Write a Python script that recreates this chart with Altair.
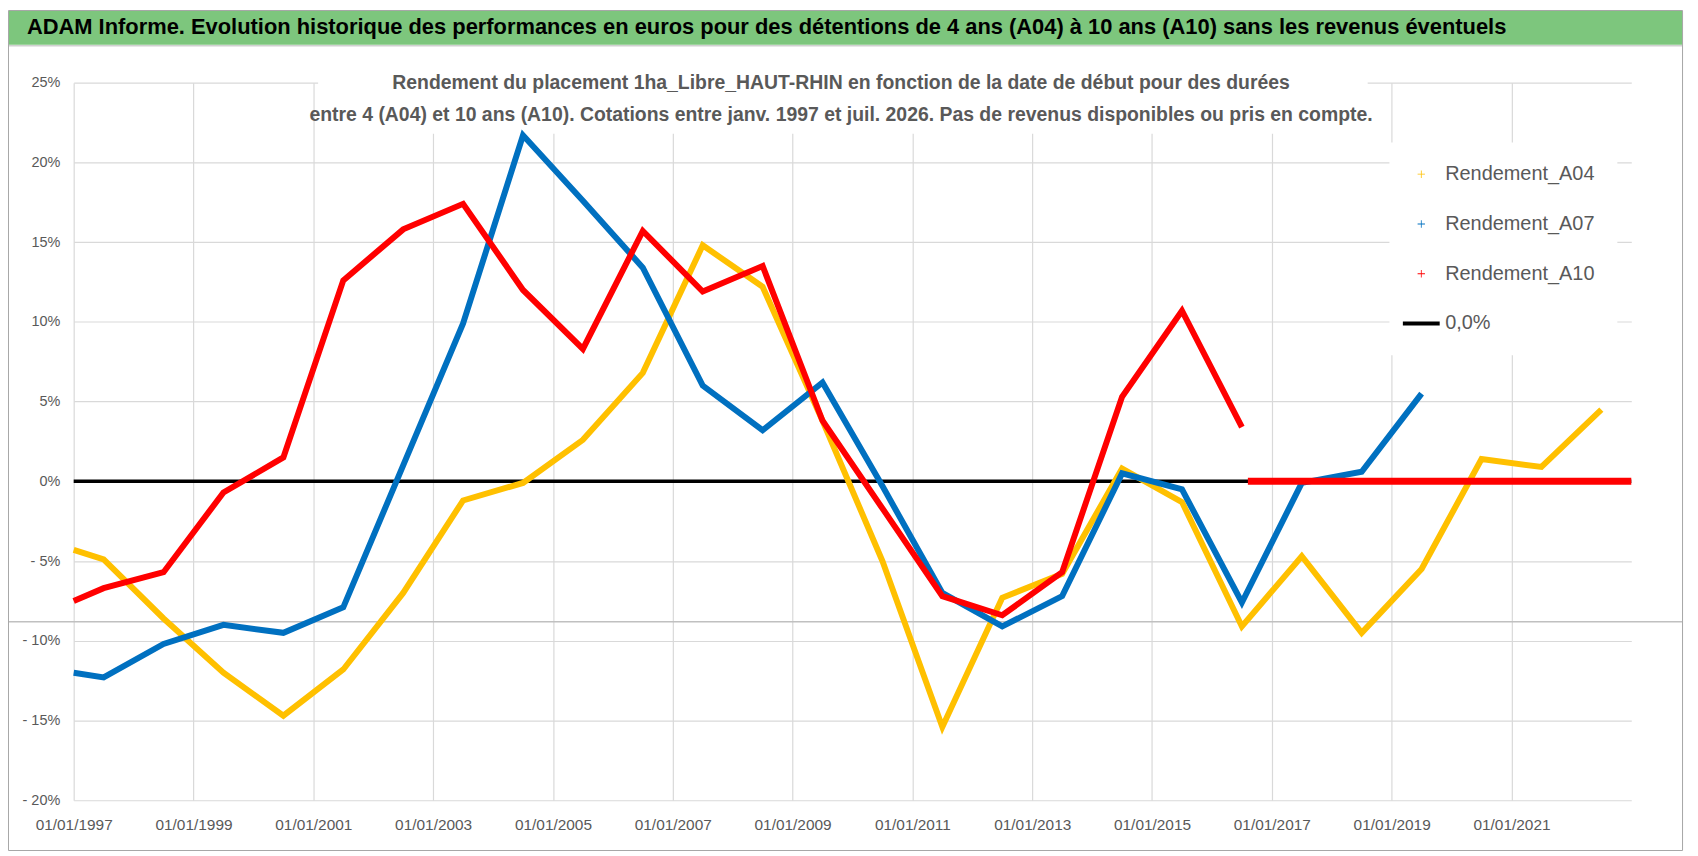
import altair as alt
import pandas as pd

# dates de début (années décimales) et rendements en %
years_a04 = [1997.0, 1997.5, 1998.5, 1999.5, 2000.5, 2001.5, 2002.5, 2003.5, 2004.5,
             2005.5, 2006.5, 2007.5, 2008.5, 2009.5, 2010.5, 2011.5, 2012.5, 2013.5,
             2014.5, 2015.5, 2016.5, 2017.5, 2018.5, 2019.5, 2020.5, 2021.5, 2022.5]
rend_a04 = [-4.3, -4.9, -8.6, -12.0, -14.7, -11.8, -7.0, -1.2, -0.1,
            2.6, 6.8, 14.8, 12.2, 3.8, -5.0, -15.4, -7.3, -5.8,
            0.8, -1.3, -9.1, -4.7, -9.5, -5.5, 1.4, 0.9, 4.5]

years_a07 = [1997.0, 1997.5, 1998.5, 1999.5, 2000.5, 2001.5, 2002.5, 2003.5, 2004.5,
             2005.5, 2006.5, 2007.5, 2008.5, 2009.5, 2010.5, 2011.5, 2012.5, 2013.5,
             2014.5, 2015.5, 2016.5, 2017.5, 2018.5, 2019.5]
rend_a07 = [-12.0, -12.3, -10.2, -9.0, -9.5, -7.9, 1.0, 9.9, 21.7,
            17.6, 13.4, 6.0, 3.2, 6.2, -0.3, -7.0, -9.1, -7.2,
            0.5, -0.5, -7.6, -0.1, 0.6, 5.5]

years_a10 = [1997.0, 1997.5, 1998.5, 1999.5, 2000.5, 2001.5, 2002.5, 2003.5, 2004.5,
             2005.5, 2006.5, 2007.5, 2008.5, 2009.5, 2010.5, 2011.5, 2012.5, 2013.5,
             2014.5, 2015.5, 2016.5]
rend_a10 = [-7.5, -6.7, -5.7, -0.7, 1.5, 12.6, 15.8, 17.4, 12.0,
            8.3, 15.7, 11.9, 13.5, 3.8, -1.7, -7.2, -8.4, -5.7,
            5.3, 10.7, 3.4]

# A10 sans cotation : valeurs nulles
years_a10_nul = [2016.6, 2023.0]
rend_a10_nul = [0.0, 0.0]

years_zero = [1997.0, 2023.0]
rend_zero = [0.0, 0.0]

series = ["Rendement_A04", "Rendement_A07", "Rendement_A10", "0,0%"]
colors = ["#ffc000", "#0070c0", "#ff0000", "#000000"]
year_ticks = [1997, 1999, 2001, 2003, 2005, 2007, 2009, 2011, 2013, 2015, 2017, 2019, 2021]
pct_ticks = [-20, -15, -10, -5, 0, 5, 10, 15, 20, 25]

title_text = ("ADAM Informe. Evolution historique des performances en euros pour des "
              "détentions de 4 ans (A04) à 10 ans (A10) sans les revenus éventuels")
subtitle_1 = ("Rendement du placement 1ha_Libre_HAUT-RHIN en fonction de la date de "
              "début pour des durées")
subtitle_2 = ("entre 4 (A04) et 10 ans (A10).  Cotations entre janv. 1997 et juil. 2026. "
              "Pas de revenus disponibles ou pris en compte.")

FONT = "Liberation Sans"
NARROW = "Liberation Sans Narrow, Liberation Sans"
GREY_TXT = "#595959"

rows = []
for name, xs, ys in [
    ("0,0%", years_zero, rend_zero),
    ("Rendement_A04", years_a04, rend_a04),
    ("Rendement_A07", years_a07, rend_a07),
    ("Rendement_A10", years_a10, rend_a10),
    ("A10_nul", years_a10_nul, rend_a10_nul),
]:
    for a, r in zip(xs, ys):
        rows.append({"serie": name, "annee": a, "rendement": r})
df = pd.DataFrame(rows)

x_enc = alt.X(
    "annee:Q",
    scale=alt.Scale(domain=[1997, 2023], nice=False, zero=False),
    axis=alt.Axis(
        values=year_ticks, labelExpr="'01/01/' + datum.value", title=None,
        ticks=False, domain=False, grid=True, gridColor="#d9d9d9", gridWidth=1.2,
        labelPadding=17, labelFont=FONT, labelFontSize=15.5, labelColor=GREY_TXT,
        labelFlush=False, labelOverlap=False,
    ),
)
y_enc = alt.Y(
    "rendement:Q",
    scale=alt.Scale(domain=[-20, 25], nice=False, zero=False),
    axis=alt.Axis(
        values=pct_ticks,
        labelExpr="datum.value < 0 ? '- ' + abs(datum.value) + '%' : datum.value + '%'",
        title=None, ticks=False, domain=False, grid=True, gridColor="#d9d9d9",
        gridWidth=1.2, labelPadding=14, labelFont=FONT, labelFontSize=14.5,
        labelColor=GREY_TXT,
    ),
)

base = alt.Chart(df).encode(x=x_enc, y=y_enc)
one = pd.DataFrame({"k": [0]})

frame = alt.Chart(one).mark_rect(fillOpacity=0, stroke="#a6a6a6", strokeWidth=1).encode(
    x=alt.value(-65.5), x2=alt.value(1616.5), y=alt.value(-72.5), y2=alt.value(771.5)
)
band = alt.Chart(one).mark_rect(color="#7dc67d").encode(
    x=alt.value(-65), x2=alt.value(1616), y=alt.value(-72), y2=alt.value(-38)
)
band_line = alt.Chart(one).mark_rule(color="#d0d0d0", strokeWidth=1.5).encode(
    x=alt.value(-65), x2=alt.value(1616), y=alt.value(-37)
)
title = alt.Chart(one).mark_text(
    text=title_text, align="left", baseline="middle", font=NARROW,
    fontWeight="bold", fontSize=22, color="#000000"
).encode(x=alt.value(-47), y=alt.value(-56))

cell_line = alt.Chart(one).mark_rule(color="#c0c0c0", strokeWidth=1.5).encode(
    y=alt.datum(-8.8), x=alt.value(-65), x2=alt.value(1616)
)
sub_box = alt.Chart(one).mark_rect(color="white").encode(
    x=alt.datum(2001.08), x2=alt.datum(2018.6), y=alt.datum(26.5), y2=alt.datum(21.8)
)
sub1 = alt.Chart(one).mark_text(
    text=subtitle_1, align="center", baseline="middle", font=NARROW,
    fontWeight="bold", fontSize=19.5, color=GREY_TXT
).encode(x=alt.value(771), y=alt.value(0))
sub2 = alt.Chart(one).mark_text(
    text=subtitle_2, align="center", baseline="middle", font=NARROW,
    fontWeight="bold", fontSize=19.5, color=GREY_TXT
).encode(x=alt.value(771), y=alt.value(33))

zero = base.transform_filter("datum.serie == '0,0%'").mark_line(color="#000000", strokeWidth=3.5)
l04 = base.transform_filter("datum.serie == 'Rendement_A04'").mark_line(
    color="#ffc000", strokeWidth=6, strokeMiterLimit=4)
l07 = base.transform_filter("datum.serie == 'Rendement_A07'").mark_line(
    color="#0070c0", strokeWidth=6, strokeMiterLimit=4)
l10 = base.transform_filter("datum.serie == 'Rendement_A10'").mark_line(
    color="#ff0000", strokeWidth=6, strokeMiterLimit=4)
l10n = base.transform_filter("datum.serie == 'A10_nul'").mark_line(
    color="#ff0000", strokeWidth=7)

# légende : petites croix "+" et trait noir
shapes = [
    "M-0.37,-0.04H0.37V0.04H-0.37Z M-0.04,-0.37H0.04V0.37H-0.04Z",
    "M-0.37,-0.04H0.37V0.04H-0.37Z M-0.04,-0.37H0.04V0.37H-0.04Z",
    "M-0.37,-0.04H0.37V0.04H-0.37Z M-0.04,-0.37H0.04V0.37H-0.04Z",
    "M-1.85,-0.2H1.85V0.2H-1.85Z",
]
leg = alt.Legend(
    title=None, orient="none", legendX=1322, legendY=60, fillColor="white",
    padding=22, labelFont=FONT, labelFontSize=20, labelColor=GREY_TXT,
    labelOffset=14, rowPadding=30, symbolSize=400, symbolStrokeWidth=0,
)
legend_layer = alt.Chart(pd.DataFrame({"serie": series})).transform_filter("false").mark_point(
    filled=True, size=400, opacity=1
).encode(
    color=alt.Color("serie:N", scale=alt.Scale(domain=series, range=colors), legend=leg),
    shape=alt.Shape("serie:N", scale=alt.Scale(domain=series, range=shapes), legend=leg),
)

chart = alt.layer(
    frame, band, band_line, title, cell_line, sub_box,
    zero, l04, l07, l10, l10n, sub1, sub2, legend_layer,
).properties(
    width=1565, height=721,
    padding={"left": 66, "top": 73, "right": 59, "bottom": 54},
    autosize=alt.AutoSizeParams(type="none"),
    background="white",
).configure_view(stroke=None)

chart.save("out.html", embed_options={"renderer": "svg", "actions": False})
